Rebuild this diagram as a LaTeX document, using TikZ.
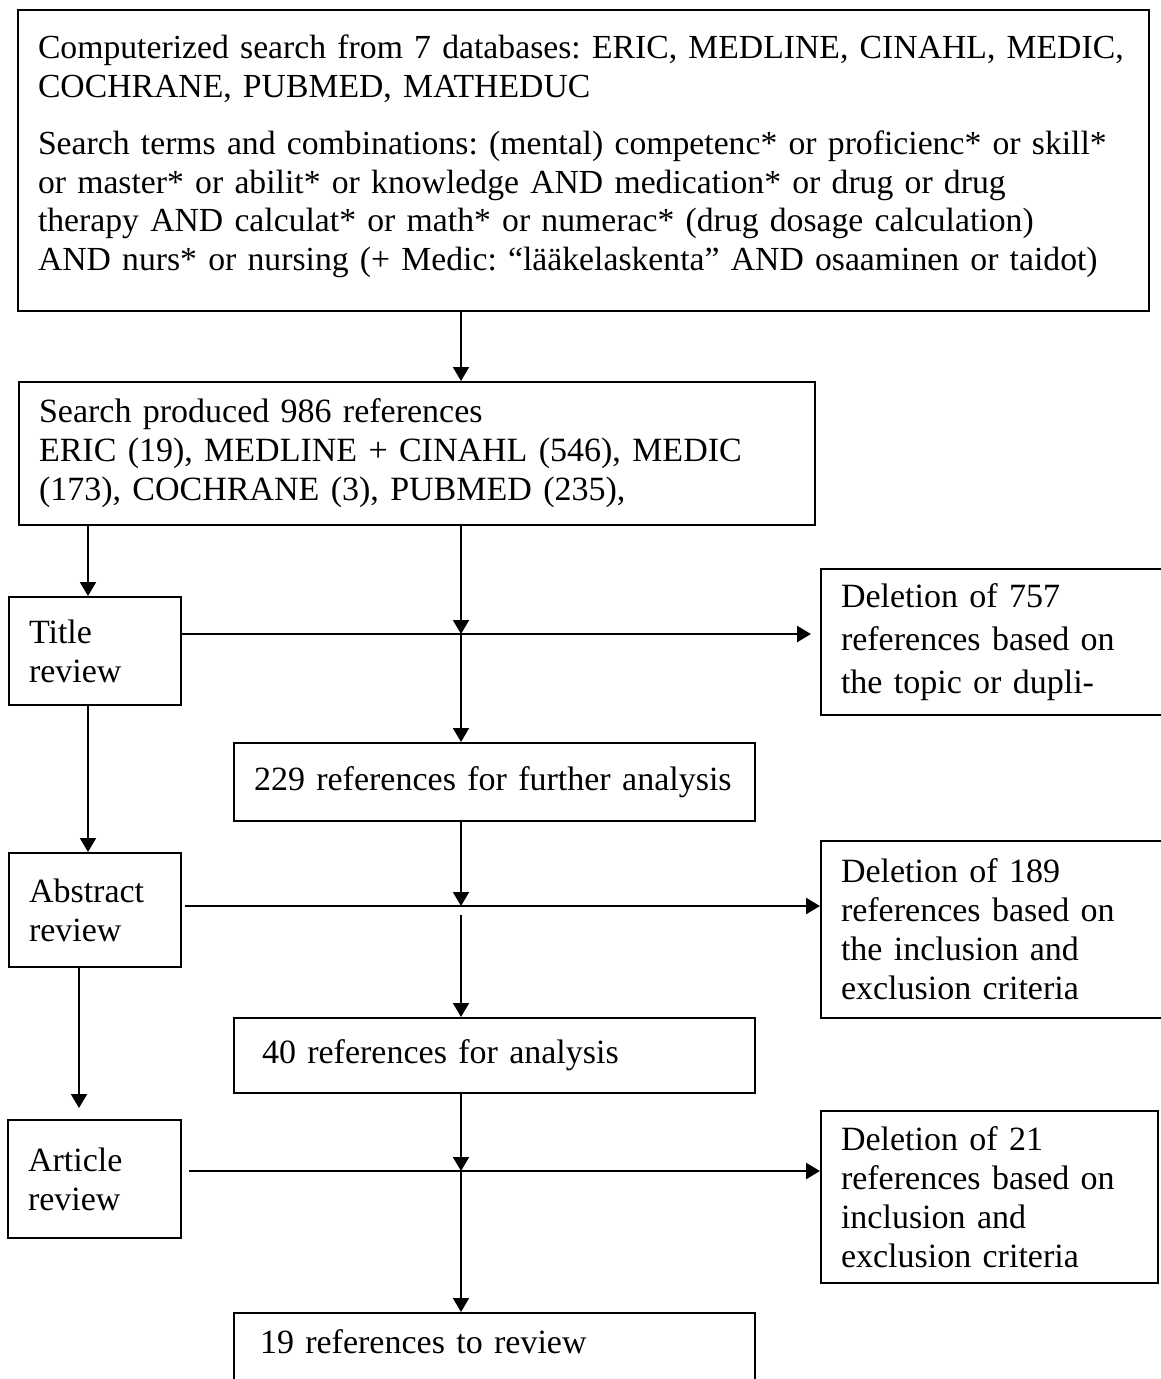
\documentclass[tikz,border=0pt]{standalone}
\usepackage{fontspec}
\setmainfont{Liberation Serif}
\usetikzlibrary{arrows.meta}

\begin{document}
\frenchspacing
\begin{tikzpicture}[x=1pt, y=-1pt, line width=2pt,
  box/.style={draw, rectangle, anchor=north west, align=left, inner xsep=20pt, inner ysep=0pt,
    font=\fontsize{34}{39}\selectfont},
  arr/.style={-{Triangle[length=14pt, width=16pt]}},
  thick arr/.style={arr, line width=2.5pt}]

\clip (0,0) rectangle (1161,1379);

% draw search boxes
\node[box, minimum width=1131pt, minimum height=301pt, text width=1091pt,
  font=\fontsize{33.7}{38.5}\selectfont] (search) at (17,9)
  {\mbox{Computerized search from 7 databases: ERIC, MEDLINE, CINAHL, MEDIC,}\\
   COCHRANE, PUBMED, MATHEDUC\\[19pt]
   \mbox{Search terms and combinations: (mental) competenc* or proficienc* or skill*}\\
   or master* or abilit* or knowledge AND medication* or drug or drug\\
   therapy AND calculat* or math* or numerac* (drug dosage calculation)\\
   \mbox{AND nurs* or nursing (+ Medic: “lääkelaskenta” AND osaaminen or taidot)}\\[-23pt]\mbox{}};
\node[box, minimum width=796pt, minimum height=143pt, text width=756pt] (found) at (18,381)
  {Search produced 986 references\\
   ERIC (19), MEDLINE + CINAHL (546), MEDIC\\
   (173), COCHRANE (3), PUBMED (235),};

% draw review boxes
\node[box, minimum width=172pt, minimum height=108pt, text width=132pt] (title) at (8,596) {Title\\ review};
\node[box, minimum width=172pt, minimum height=114pt, text width=132pt] (abstract) at (8,852) {Abstract\\ review};
\node[box, minimum width=173pt, minimum height=118pt, text width=133pt] (article) at (7,1119) {Article\\ review};

% draw result boxes
\node[box, minimum width=521pt, minimum height=78pt, text width=481pt] (further) at (233,742)
  {229 references for further analysis};
\node[box, minimum width=521pt, minimum height=75pt, text width=481pt] (analysis) at (233,1017)
  {\hspace*{8pt}40 references for analysis};
\node[box, minimum width=521pt, minimum height=80pt, text width=481pt, text depth=22pt] (review) at (233,1312)
  {\hspace*{6pt}19 references to review};

% draw deletion boxes
\node[box, minimum width=360pt, minimum height=146pt, text width=320pt,
  font=\fontsize{34}{43}\selectfont] (del1) at (820,568)
  {Deletion of 757\\ references based on\\ the topic or dupli-};
\node[box, minimum width=360pt, minimum height=177pt, text width=320pt] (del2) at (820,840)
  {Deletion of 189\\ references based on\\ the inclusion and\\ exclusion criteria};
\node[box, minimum width=337pt, minimum height=172pt, text width=297pt] (del3) at (820,1110)
  {Deletion of 21\\ references based on\\ inclusion and\\ exclusion criteria};

% junctions on the middle line
\coordinate (j1) at (461,634);
\coordinate (j2) at (461,906);
\coordinate (j3) at (461,1171);
\coordinate (l1) at ([xshift=-7pt]title.north);
\coordinate (l2) at ([xshift=-16pt]abstract.south);

% draw middle line
\draw[arr] (j1 |- search.south) -- (j1 |- found.north);
\draw[arr] (j1 |- found.south) -- (j1);
\draw[arr] (j1) -- (j1 |- further.north);
\draw[arr] (j2 |- further.south) -- (j2);
\draw[arr] ([yshift=-9pt]j2) -- (j2 |- analysis.north);
\draw[arr] (j3 |- analysis.south) -- (j3);
\draw[arr] (j3) -- (j3 |- review.north);

% draw left line
\draw[arr] (l1 |- found.south) -- (l1);
\draw[arr] (l1 |- title.south) -- (l1 |- abstract.north);
\draw[arr, shorten >=11pt] (l2) -- (l2 |- article.north);

% draw deletion arrows
\draw[thick arr, shorten >=9pt] (title.east |- j1) -- (del1.west |- j1);
\draw[thick arr, shorten <=3pt] (abstract.east |- j2) -- (del2.west |- j2);
\draw[thick arr, shorten <=7pt] (article.east |- j3) -- (del3.west |- j3);

\end{tikzpicture}
\end{document}
